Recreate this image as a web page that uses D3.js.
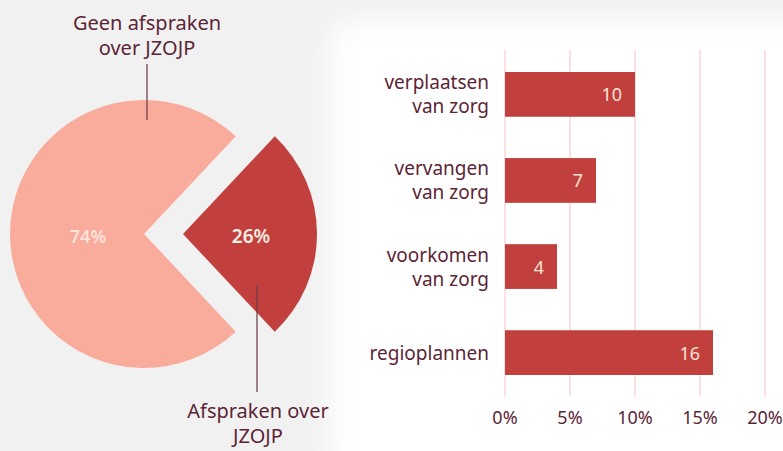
<!DOCTYPE html>
<html><head><meta charset="utf-8">
<script src="https://cdn.jsdelivr.net/npm/d3@7"></script>
<style>html,body{margin:0;padding:0;background:#f2f2f2;}svg{display:block;}</style>
</head><body>
<svg id="c" width="783" height="451"></svg>
<script>
const pieLabels = [["Afspraken over", "JZOJP"], ["Geen afspraken", "over JZOJP"]];
const pieValues = [26, 74];
const pieColors = ["#c1403d", "#f9ab9c"];
const barCategories = [["verplaatsen", "van zorg"], ["vervangen", "van zorg"], ["voorkomen", "van zorg"], ["regioplannen"]];
const barValues = [10, 7, 4, 16];
const xTicks = [0, 5, 10, 15, 20];

const svg = d3.select("#c");
const font = "'Noto Sans', sans-serif";
const textCol = "#5c2536";

// background
const defs = svg.append("defs");
const f = defs.append("filter").attr("id","blur").attr("x","-10%").attr("y","-10%").attr("width","120%").attr("height","120%");
f.append("feGaussianBlur").attr("stdDeviation", 14);
svg.append("rect").attr("width",783).attr("height",451).attr("fill","#f1f1f1");
svg.append("rect").attr("x",330).attr("y",20).attr("width",490).attr("height",460).attr("rx",20).attr("fill","#ffffff").attr("filter","url(#blur)");

// pie
const r = 134;
const pie = d3.pie().sort(null).value(d => d)
  .startAngle(Math.PI/2 - Math.PI*0.26).endAngle(Math.PI/2 - Math.PI*0.26 + 2*Math.PI);
const arcs = pie(pieValues);
const arc = d3.arc().innerRadius(0).outerRadius(r);
const centers = [[183, 234], [144, 234]];
const g = svg.append("g");
arcs.forEach((a, i) => {
  g.append("path").attr("d", arc(a)).attr("fill", pieColors[i])
    .attr("transform", `translate(${centers[i][0]},${centers[i][1]})`);
});
// percentage labels
svg.append("text").attr("x", 251).attr("y", 243).attr("text-anchor","middle")
  .attr("font-family", font).attr("font-size", 19).attr("font-weight", 600).attr("fill","#fbeee6")
  .text(pieValues[0] + "%");
svg.append("text").attr("x", 88).attr("y", 243).attr("text-anchor","middle")
  .attr("font-family", font).attr("font-size", 18).attr("font-weight", 600).attr("fill","#fde2da")
  .text(pieValues[1] + "%");

// leader lines
svg.append("line").attr("x1",147).attr("x2",147).attr("y1",64).attr("y2",120).attr("stroke","#6a3a45").attr("stroke-width",1.2);
svg.append("line").attr("x1",257).attr("x2",257).attr("y1",285).attr("y2",392).attr("stroke","#6a3a45").attr("stroke-width",1.2);

function twoLine(x, y, lines, size) {
  const t = svg.append("text").attr("x", x).attr("y", y).attr("text-anchor","middle")
    .attr("font-family", font).attr("font-size", size).attr("fill", textCol);
  lines.forEach((l, i) => t.append("tspan").attr("x", x).attr("dy", i ? 25 : 0).text(l));
}
twoLine(147, 30, pieLabels[1], 20);
twoLine(258, 418, pieLabels[0], 20);

// bar chart
const x = d3.scaleLinear().domain([0, 20]).range([505, 765]);
const y = d3.scaleBand().domain(d3.range(barValues.length)).range([72, 375]).paddingInner(0.48).paddingOuter(0);

svg.append("g").selectAll("line").data(xTicks).join("line")
  .attr("x1", d => x(d)).attr("x2", d => x(d)).attr("y1", 50).attr("y2", 396)
  .attr("stroke", "#f7cccc").attr("stroke-width", 1.2);

svg.append("g").selectAll("rect").data(barValues).join("rect")
  .attr("x", x(0)).attr("y", (d, i) => y(i)).attr("width", d => x(d) - x(0)).attr("height", y.bandwidth())
  .attr("fill", "#c1403d");

svg.append("g").selectAll("text").data(barValues).join("text")
  .attr("x", d => x(d) - 13).attr("y", (d, i) => y(i) + y.bandwidth()/2 + 7)
  .attr("text-anchor","end").attr("font-family", font).attr("font-size", 18).attr("fill","#fbe3d6")
  .text(d => d);

barCategories.forEach((lines, i) => {
  const cy = y(i) + y.bandwidth()/2;
  const t = svg.append("text").attr("text-anchor","end").attr("font-family", font).attr("font-size", 19).attr("fill", textCol);
  const n = lines.length;
  lines.forEach((l, j) => t.append("tspan").attr("x", 489).attr("y", cy + 7 + (j - (n-1)/2) * 24).text(l));
});

svg.append("g").selectAll("text").data(xTicks).join("text")
  .attr("x", d => x(d)).attr("y", 424).attr("text-anchor","middle")
  .attr("font-family", font).attr("font-size", 18).attr("fill", textCol)
  .text(d => d + "%");
</script>
</body></html>
